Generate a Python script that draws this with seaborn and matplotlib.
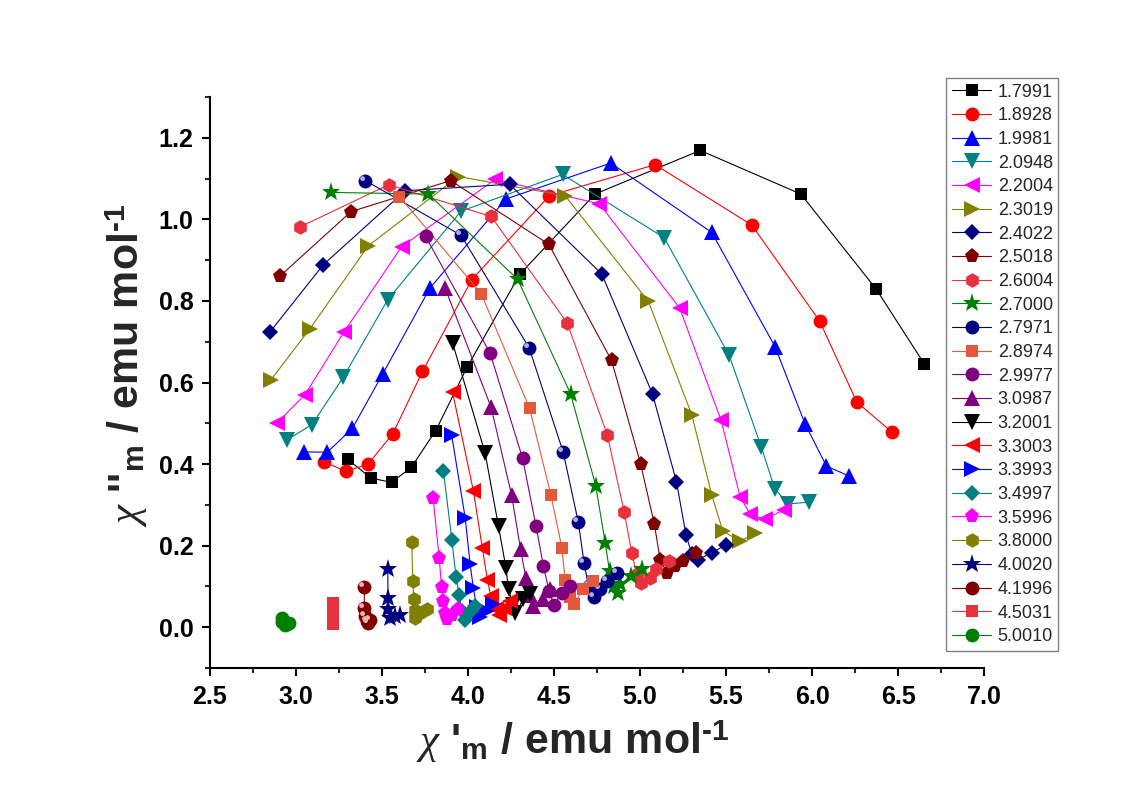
import pandas as pd
import numpy as np
import matplotlib
matplotlib.use("Agg")
import matplotlib.pyplot as plt
import seaborn as sns
from matplotlib.ticker import MultipleLocator, FormatStrFormatter
from matplotlib.markers import MarkerStyle
from matplotlib.transforms import Affine2D

# ============================================================
# DATA  (chi' , chi'' in emu/mol, one pair of lists per temperature)
# ============================================================
temps = ["1.7991", "1.8928", "1.9981", "2.0948", "2.2004", "2.3019",
         "2.4022", "2.5018", "2.6004", "2.7000", "2.7971", "2.8974",
         "2.9977", "3.0987", "3.2001", "3.3003", "3.3993", "3.4997",
         "3.5996", "3.8000", "4.0020", "4.1996", "4.5031", "5.0010"]

chi1_1799 = [3.300, 3.434, 3.555, 3.670, 3.812, 3.996, 4.302, 4.738, 5.349, 5.934, 6.372, 6.651]
chi2_1799 = [0.412, 0.366, 0.355, 0.392, 0.482, 0.639, 0.866, 1.062, 1.169, 1.062, 0.829, 0.646]

chi1_1893 = [3.163, 3.289, 3.419, 3.562, 3.735, 4.021, 4.473, 5.087, 5.649, 6.043, 6.259, 6.462]
chi2_1893 = [0.406, 0.382, 0.400, 0.474, 0.627, 0.852, 1.058, 1.134, 0.986, 0.751, 0.552, 0.479]

chi1_1998 = [3.048, 3.182, 3.328, 3.504, 3.779, 4.221, 4.829, 5.416, 5.784, 5.959, 6.083, 6.213]
chi2_1998 = [0.430, 0.429, 0.488, 0.621, 0.832, 1.050, 1.138, 0.968, 0.688, 0.498, 0.395, 0.371]

chi1_2095 = [2.946, 3.093, 3.275, 3.533, 3.959, 4.549, 5.140, 5.517, 5.705, 5.782, 5.860, 5.983]
chi2_2095 = [0.459, 0.497, 0.613, 0.803, 1.020, 1.110, 0.955, 0.667, 0.441, 0.340, 0.302, 0.307]

chi1_2200 = [2.887, 3.052, 3.279, 3.614, 4.157, 4.763, 5.229, 5.471, 5.581, 5.640, 5.723, 5.834]
chi2_2200 = [0.500, 0.570, 0.724, 0.933, 1.098, 1.038, 0.783, 0.507, 0.320, 0.277, 0.265, 0.287]

chi1_2302 = [2.855, 3.081, 3.420, 3.943, 4.564, 5.048, 5.300, 5.416, 5.480, 5.581, 5.669]
chi2_2302 = [0.607, 0.732, 0.935, 1.105, 1.058, 0.799, 0.521, 0.325, 0.236, 0.211, 0.230]

chi1_2402 = [2.849, 3.159, 3.634, 4.241, 4.777, 5.072, 5.211, 5.267, 5.300, 5.339, 5.416, 5.497]
chi2_2402 = [0.724, 0.889, 1.070, 1.086, 0.866, 0.572, 0.357, 0.226, 0.180, 0.166, 0.183, 0.201]

chi1_2502 = [2.907, 3.320, 3.899, 4.469, 4.834, 5.003, 5.083, 5.116, 5.155, 5.200, 5.252, 5.324]
chi2_2502 = [0.861, 1.019, 1.095, 0.939, 0.654, 0.400, 0.252, 0.166, 0.134, 0.150, 0.162, 0.183]

chi1_2600 = [3.026, 3.538, 4.134, 4.576, 4.809, 4.907, 4.951, 4.980, 5.003, 5.058, 5.093, 5.165]
chi2_2600 = [0.982, 1.085, 1.007, 0.746, 0.472, 0.283, 0.183, 0.130, 0.109, 0.121, 0.143, 0.162]

chi1_2700 = [3.201, 3.769, 4.288, 4.596, 4.742, 4.797, 4.822, 4.850, 4.874, 4.884, 4.948, 5.013]
chi2_2700 = [1.066, 1.062, 0.853, 0.572, 0.347, 0.207, 0.138, 0.100, 0.085, 0.105, 0.125, 0.142]

chi1_2797 = [3.403, 3.959, 4.355, 4.553, 4.641, 4.674, 4.700, 4.733, 4.767, 4.806, 4.864]
chi2_2797 = [1.095, 0.961, 0.685, 0.429, 0.257, 0.158, 0.100, 0.074, 0.093, 0.113, 0.134]

chi1_2897 = [3.601, 4.076, 4.357, 4.481, 4.545, 4.564, 4.590, 4.613, 4.669, 4.728]
chi2_2897 = [1.056, 0.818, 0.537, 0.325, 0.195, 0.117, 0.075, 0.056, 0.093, 0.113]

chi1_2998 = [3.753, 4.128, 4.317, 4.395, 4.438, 4.470, 4.500, 4.545, 4.593]
chi2_2998 = [0.958, 0.672, 0.414, 0.248, 0.150, 0.090, 0.055, 0.084, 0.100]

chi1_3099 = [3.866, 4.134, 4.253, 4.305, 4.336, 4.360, 4.378, 4.438, 4.477]
chi2_3099 = [0.832, 0.539, 0.324, 0.191, 0.121, 0.080, 0.052, 0.068, 0.093]

chi1_3200 = [3.910, 4.099, 4.177, 4.220, 4.235, 4.260, 4.273, 4.322, 4.360]
chi2_3200 = [0.697, 0.427, 0.247, 0.146, 0.093, 0.055, 0.035, 0.068, 0.082]

chi1_3300 = [3.910, 4.031, 4.083, 4.112, 4.132, 4.160, 4.177, 4.206, 4.244]
chi2_3300 = [0.576, 0.334, 0.194, 0.117, 0.076, 0.045, 0.030, 0.047, 0.064]

chi1_3399 = [3.904, 3.983, 4.012, 4.031, 4.050, 4.070, 4.109, 4.143]
chi2_3399 = [0.472, 0.269, 0.154, 0.095, 0.050, 0.025, 0.039, 0.056]

chi1_3500 = [3.857, 3.906, 3.930, 3.949, 3.963, 3.983, 4.016, 4.040]
chi2_3500 = [0.382, 0.213, 0.123, 0.080, 0.040, 0.017, 0.039, 0.052]

chi1_3600 = [3.797, 3.832, 3.846, 3.856, 3.865, 3.875, 3.904, 3.943]
chi2_3600 = [0.316, 0.170, 0.098, 0.064, 0.035, 0.019, 0.031, 0.044]

chi1_3800 = [3.673, 3.678, 3.686, 3.690, 3.692, 3.721, 3.760]
chi2_3800 = [0.210, 0.113, 0.068, 0.042, 0.023, 0.035, 0.044]

chi1_4002 = [3.534, 3.534, 3.537, 3.547, 3.576, 3.605]
chi2_4002 = [0.142, 0.072, 0.044, 0.023, 0.027, 0.031]

chi1_4200 = [3.397, 3.397, 3.400, 3.410, 3.421, 3.430]
chi2_4200 = [0.098, 0.048, 0.028, 0.015, 0.011, 0.018]

chi1_4503 = [3.217, 3.217, 3.217, 3.217, 3.217]
chi2_4503 = [0.060, 0.042, 0.031, 0.018, 0.007]

chi1_5001 = [2.917, 2.920, 2.935, 2.946, 2.960]
chi2_5001 = [0.023, 0.012, 0.005, 0.007, 0.010]

series = [
    (chi1_1799, chi2_1799), (chi1_1893, chi2_1893), (chi1_1998, chi2_1998),
    (chi1_2095, chi2_2095), (chi1_2200, chi2_2200), (chi1_2302, chi2_2302),
    (chi1_2402, chi2_2402), (chi1_2502, chi2_2502), (chi1_2600, chi2_2600),
    (chi1_2700, chi2_2700), (chi1_2797, chi2_2797), (chi1_2897, chi2_2897),
    (chi1_2998, chi2_2998), (chi1_3099, chi2_3099), (chi1_3200, chi2_3200),
    (chi1_3300, chi2_3300), (chi1_3399, chi2_3399), (chi1_3500, chi2_3500),
    (chi1_3600, chi2_3600), (chi1_3800, chi2_3800), (chi1_4002, chi2_4002),
    (chi1_4200, chi2_4200), (chi1_4503, chi2_4503), (chi1_5001, chi2_5001),
]

# ============================================================
# STYLE (Origin-like symbol / colour cycle)
# ============================================================
colors = ["#000000", "#FF0000", "#0000FF", "#008080", "#FF00FF", "#808000",
          "#000080", "#800000", "#E8303E", "#008000", "#000080", "#E4583C",
          "#800080", "#800080", "#000000", "#FF0000", "#0000FF", "#008080",
          "#FF00FF", "#808000", "#000080", "#800000", "#E8303E", "#008000"]
markers = ["s", "o", "^", "v", "<", ">", "D", "p", "h", "*", "o", "s",
           "o", "^", "v", "<", ">", "D", "p", "h", "*", "o", "s", "o"]
msize = {"s": 9, "o": 10, "^": 11, "v": 11, "<": 11, ">": 11,
         "D": 8.5, "p": 11, "h": 10.5, "*": 14}
# "sphere" symbols get a small light spot
spheres = {"2.7971": "#A8B0E8", "4.1996": "#E8B0B0"}

frames = []
for t, (x, y) in zip(temps, series):
    frames.append(pd.DataFrame({"chi1": x, "chi2": y, "T": t}))
df = pd.concat(frames, ignore_index=True)

sns.set_theme(style="ticks")
plt.rcParams["font.family"] = ["Liberation Sans", "DejaVu Sans"]
plt.rcParams["mathtext.fontset"] = "custom"
plt.rcParams["mathtext.it"] = "Liberation Serif:italic"
plt.rcParams["mathtext.rm"] = "Liberation Sans:bold"
plt.rcParams["mathtext.bf"] = "Liberation Sans:bold"

fig = plt.figure(figsize=(11.26, 7.93), dpi=100)
ax = fig.add_axes([0.1865, 0.1576, 0.6876, 0.7201])

sns.lineplot(data=df, x="chi1", y="chi2", hue="T", style="T",
             hue_order=temps, style_order=temps, palette=colors,
             markers=markers, dashes=False, sort=False, estimator=None,
             linewidth=0.8, markersize=9, markeredgewidth=0, ax=ax)

series_lines = list(ax.lines)
for i, (line, m) in enumerate(zip(series_lines, markers)):
    line.set_markersize(msize[m])
    line.set_zorder(2 + 0.01 * i)

spot = MarkerStyle("o", transform=Affine2D().translate(-0.6, 0.6))
for i, t in enumerate(temps):
    if t in spheres:
        sub = df[df["T"] == t]
        ax.plot(sub["chi1"], sub["chi2"], ls="none", marker=spot, ms=3.5,
                mew=0, color=spheres[t], zorder=2 + 0.01 * i + 0.005)

ax.set_xlim(2.5, 7.0)
ax.set_ylim(-0.1, 1.3)
ax.xaxis.set_major_locator(MultipleLocator(0.5))
ax.xaxis.set_minor_locator(MultipleLocator(0.25))
ax.yaxis.set_major_locator(MultipleLocator(0.2))
ax.yaxis.set_minor_locator(MultipleLocator(0.1))
ax.xaxis.set_major_formatter(FormatStrFormatter("%.1f"))
ax.yaxis.set_major_formatter(FormatStrFormatter("%.1f"))
ax.set_yticks(np.arange(0, 1.21, 0.2))

for side in ["top", "right"]:
    ax.spines[side].set_visible(False)
for side in ["left", "bottom"]:
    ax.spines[side].set_linewidth(1.5)
    ax.spines[side].set_color("black")
ax.tick_params(which="major", direction="out", length=6, width=1.5,
               labelsize=18, colors="black", pad=6)
ax.tick_params(which="minor", direction="out", length=3.5, width=1.5)
for lbl in ax.get_xticklabels() + ax.get_yticklabels():
    lbl.set_fontweight("bold")

ax.set_xlabel("$\\chi$ '$_{\\mathbf{m}}$ / emu mol$^{\\mathbf{\u2010 1}}$",
              fontsize=31, fontweight="bold")
ax.set_ylabel("$\\chi$ ''$_{\\mathbf{m}}$ / emu mol$^{\\mathbf{\u2010 1}}$",
              fontsize=31, fontweight="bold")
ax.xaxis.set_label_coords(0.469, -0.088)
ax.yaxis.set_label_coords(-0.078, 0.53)

sns.move_legend(ax, "upper left", bbox_to_anchor=(0.951, 1.033),
                title=None, frameon=True, fancybox=False, framealpha=1,
                edgecolor="#808080", fontsize=13, labelspacing=0.37,
                handlelength=2.2, handletextpad=0.35, borderpad=0.3,
                borderaxespad=0)
leg = ax.get_legend()
leg.get_frame().set_linewidth(1.0)
for h, m in zip(leg.get_lines(), markers):
    h.set_markersize(msize[m])
    h.set_linewidth(0.8)
for txt in leg.get_texts():
    txt.set_fontweight("normal")

fig.savefig("out.png", dpi=100)
